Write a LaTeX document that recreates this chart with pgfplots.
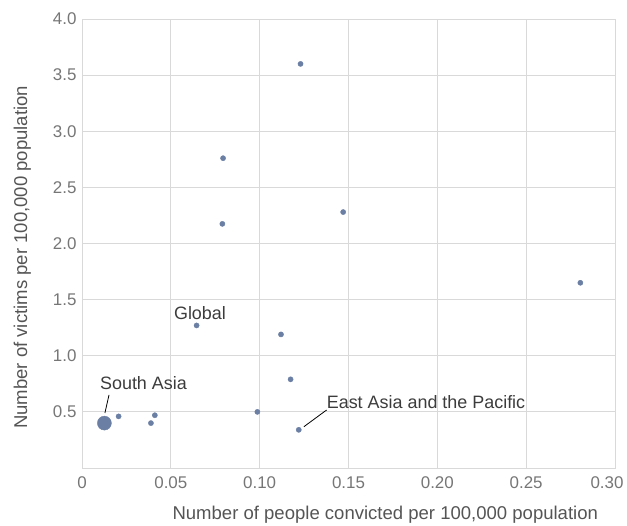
\documentclass[border=0pt]{standalone}
\usepackage{pgfplots}
\pgfplotsset{compat=1.18}
\usepackage{fontspec}
\setmainfont{Liberation Sans}
\definecolor{dotc}{RGB}{106,127,163}
\definecolor{gridc}{RGB}{217,217,217}
\definecolor{tickc}{RGB}{118,118,118}
\definecolor{labc}{RGB}{85,85,85}
\definecolor{annc}{RGB}{60,60,60}
\begin{document}
\begin{tikzpicture}
\begin{axis}[
  scale only axis,
  width=533bp, height=449bp,
  xmin=0, xmax=0.3, ymin=0, ymax=4,
  xtick={0,0.05,0.1,0.15,0.2,0.25,0.3},
  xticklabels={0,0.05,0.10,0.15,0.20,0.25,\makebox[0pt]{0.30\hspace{16bp}}},
  ytick={0.5,1,1.5,2,2.5,3,3.5,4},
  yticklabels={0.5,1.0,1.5,2.0,2.5,3.0,3.5,4.0},
  grid=major,
  major grid style={gridc, line width=0.9pt},
  axis line style={gridc, line width=0.9pt},
  tick style={draw=none},
  major tick length=0pt,
  /pgf/number format/assume math mode=true,
  ticklabel style={font=\fontsize{17}{20}\selectfont, text=tickc},
  xticklabel style={yshift=-5bp},
  yticklabel style={xshift=-2bp},
  xlabel={Number of people convicted per 100,000 population},
  ylabel={Number of victims per 100,000 population},
  label style={font=\fontsize{18.6}{20}\selectfont, text=labc},
  xlabel style={at={(axis description cs:0.569,-0.105)}, anchor=center},
  ylabel style={at={(axis description cs:-0.112,0.469)}, anchor=center},
  clip=false,
]
\addplot[only marks, mark=*, color=dotc, mark size=2.6bp] coordinates {
(0.123,3.60)
(0.0794,2.76)
(0.079,2.175)
(0.147,2.28)
(0.2805,1.65)
(0.0645,1.27)
(0.112,1.19)
(0.1174,0.79)
(0.0987,0.50)
(0.122,0.34)
(0.0206,0.46)
(0.0388,0.40)
(0.041,0.47)
};
\addplot[only marks, mark=*, color=dotc, mark size=7bp] coordinates {
(0.0126,0.40)
};
\node[font=\fontsize{18}{20}\selectfont, text=annc] at (axis cs:0.0664,1.384) {Global};
\node[font=\fontsize{18}{20}\selectfont, text=annc] at (axis cs:0.0346,0.760) {South Asia};
\draw[black, line width=0.8pt] (axis cs:0.0152,0.651) -- (axis cs:0.0129,0.49);
\node[font=\fontsize{18}{20}\selectfont, text=annc, anchor=west, inner sep=0pt] at (axis cs:0.1377,0.591) {East Asia and the Pacific};
\draw[black, line width=0.8pt] (axis cs:0.1377,0.517) -- (axis cs:0.1249,0.368);
\coordinate (ll) at (rel axis cs:0,0);
\coordinate (ur) at (rel axis cs:1,1);
\end{axis}
\pgfresetboundingbox
\path[use as bounding box] ([shift={(-82bp,-58bp)}]ll) rectangle ([shift={(12bp,19bp)}]ur);
\end{tikzpicture}
\end{document}
